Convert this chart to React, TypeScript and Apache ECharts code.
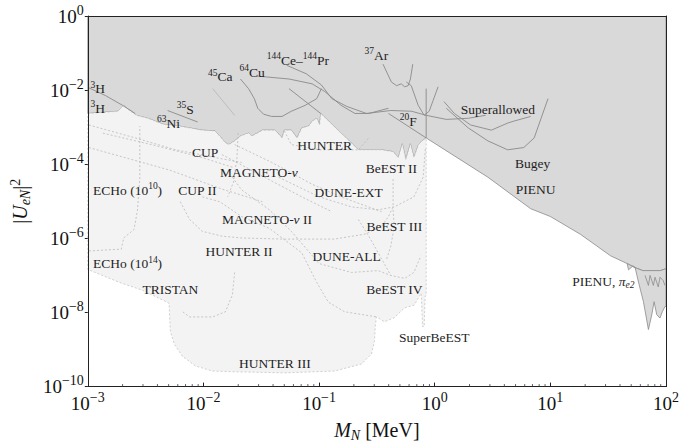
import React, { useEffect, useRef } from "react";
import * as echarts from "echarts";

// All points are [log10(M_N / MeV), log10(|U_eN|^2)].

// Lower edge of the excluded (dark) region, low-mass part (3H ... BeEST II)
const lowMassExclusionEdge: number[][] = [
  [-3.0, -2.63], [-2.74, -2.57], [-2.69, -2.41], [-2.65, -2.52], [-2.58, -2.68],
  [-2.48, -2.76], [-2.35, -2.92], [-2.21, -2.97], [-2.01, -3.08], [-1.9, -3.1],
  [-1.86, -3.24], [-1.81, -3.42], [-1.78, -3.47], [-1.73, -3.37], [-1.68, -3.24],
  [-1.61, -3.16], [-1.58, -3.24], [-1.49, -3.08], [-1.38, -3.08], [-1.32, -3.29],
  [-1.3, -3.08], [-1.24, -3.08], [-1.19, -3.29], [-1.15, -3.02], [-1.09, -2.97],
  [-1.06, -2.84], [-1.02, -2.76], [-0.995, -2.94], [-0.986, -2.63], [-0.66, -3.61],
  [-0.46, -3.61], [-0.36, -3.66], [-0.315, -3.82], [-0.28, -3.45], [-0.25, -3.87],
  [-0.21, -3.45], [-0.18, -3.82], [-0.14, -3.47], [-0.11, -3.37], [-0.074, -3.29],
];
// PIENU part of the excluded edge
const pienuExclusionEdge: number[][] = [
  [0.46, -4.35], [0.83, -5.2], [1.0, -5.41], [1.26, -5.89], [1.52, -6.47],
  [1.664, -6.68], [1.733, -6.79], [1.8, -6.87], [1.95, -6.87], [2.0, -6.82],
];
// Lower envelope of future sensitivities (from BeEST edge back to the left border)
const futureLowerEdge: number[][] = [
  [-0.074, -7.53], [-0.083, -7.58], [-0.091, -8.38], [-0.105, -8.38], [-0.117, -7.48],
  [-0.177, -7.8], [-0.263, -7.88], [-0.349, -8.14], [-0.435, -8.25], [-0.504, -8.12],
  [-0.513, -8.33], [-0.521, -8.78], [-0.547, -9.12], [-0.633, -9.39], [-0.866, -9.58],
  [-1.296, -9.63], [-1.726, -9.6], [-1.924, -9.58], [-2.071, -9.44], [-2.182, -9.18],
  [-2.251, -8.86], [-2.286, -8.51], [-2.294, -8.01], [-2.297, -7.75], [-2.527, -7.4],
  [-2.725, -7.19], [-3.0, -6.84],
];
// PIENU pi_e2 region
const pienuE2Region: number[][] = [
  [1.664, -6.68], [1.676, -6.85], [1.715, -6.74], [1.733, -6.79], [1.8, -6.87],
  [1.95, -6.87], [2.0, -6.82], [2.0, -7.84], [1.991, -7.84], [1.968, -7.98],
  [1.948, -8.15], [1.92, -8.06], [1.897, -7.71], [1.877, -8.06], [1.848, -8.46],
  [1.805, -7.71], [1.762, -7.18], [1.733, -6.79],
];
const pienuE2Inner: number[][] = [
  [1.819, -7.0], [1.848, -7.27], [1.862, -7.0], [1.891, -7.27], [1.905, -7.05],
  [1.933, -7.31], [1.948, -7.05], [1.976, -7.14], [1.991, -7.27],
];

// Solid limit curves inside the excluded region
const tritiumCurve = [[-2.99, -1.94], [-2.845, -2.15], [-2.7, -2.41], [-2.59, -2.63]];
const sulfurCurve = [[-2.31, -2.55], [-2.05, -2.86]];
const calciumCurve = [
  [-1.68, -1.7], [-1.61, -1.96], [-1.56, -2.23], [-1.53, -2.49], [-1.48, -2.65],
  [-1.41, -2.71], [-1.32, -2.71], [-1.24, -2.57], [-1.12, -2.41], [-1.02, -2.23], [-0.98, -1.96],
];
const copperCurve = [
  [-1.54, -1.62], [-1.26, -1.7], [-1.06, -1.83], [-0.95, -2.04], [-0.81, -2.41],
  [-0.69, -2.63], [-0.57, -2.63], [-0.4, -2.49],
];
const ceriumCurve = [
  [-1.28, -1.33], [-1.11, -1.56], [-0.98, -1.86], [-0.89, -2.23], [-0.76, -2.44],
  [-0.59, -2.63], [-0.38, -2.55], [-0.2, -2.57], [-0.074, -2.68], [0.1, -2.79],
  [0.29, -2.76], [0.44, -2.68],
];
const argonCurve = [
  [-0.447, -1.3], [-0.375, -1.78], [-0.33, -1.88], [-0.29, -1.83], [-0.26, -1.91],
  [-0.23, -1.88], [-0.21, -1.7], [-0.19, -1.3],
];
const fluorineCurve = [
  [-0.246, -1.78], [-0.203, -1.88], [-0.143, -2.41], [-0.091, -2.68], [-0.048, -2.57],
  [-0.014, -2.28], [0.029, -1.91],
];
const beestVertical = [[-0.074, -1.96], [-0.074, -3.29]];
const pienuExtension = [[-0.4, -2.63], [-0.074, -3.29]];
const hunterDiagonal = [[-1.26, -1.96], [-0.986, -2.63]];
const faintDiagonal = [[-1.92, -1.96], [-1.73, -2.68]];
const superallowedCurve = [
  [0.08, -2.31], [0.17, -2.63], [0.31, -2.94], [0.49, -3.08], [0.63, -2.89],
  [0.68, -2.84], [0.83, -2.71],
];
const bugeyCurve = [
  [0.1, -2.49], [0.29, -3.02], [0.46, -3.37], [0.63, -3.61], [0.77, -3.55],
  [0.86, -3.29], [0.92, -2.76], [0.98, -2.23],
];

// Dotted projected-sensitivity curves
const echo14Curve = [[-2.99, -6.34], [-2.71, -6.29], [-2.69, -5.99], [-2.6, -5.76], [-2.57, -5.23], [-2.55, -4.35], [-2.55, -2.97]];
const cupCurve = [[-2.99, -2.94], [-2.59, -3.29], [-2.24, -3.61], [-1.9, -3.82], [-1.67, -3.95]];
const echo10Curve = [[-2.87, -3.16], [-2.41, -3.5], [-2.01, -3.82], [-1.75, -4.08]];
const cup2Curve = [[-2.99, -3.55], [-2.29, -4.16], [-1.84, -4.67], [-1.49, -5.01]];
const magnetoCurve = [[-1.73, -3.47], [-1.41, -3.95], [-1.06, -4.54], [-0.81, -4.88], [-0.46, -5.28]];
const magnetoBCurve = [[-1.84, -3.74], [-1.15, -4.88], [-0.89, -5.28]];
const hunterCurve = [[-1.3, -3.1], [-1.24, -3.47], [-1.0, -3.61], [-0.66, -3.61], [-0.57, -3.29]];
const cupVertical = [[-1.7, -3.16], [-1.71, -3.82], [-1.74, -4.48], [-1.79, -4.88]];
const duneExtCurve = [[-1.35, -4.35], [-1.0, -4.88], [-0.72, -5.15], [-0.49, -5.23], [-0.35, -5.15], [-0.18, -4.88], [-0.1, -4.35], [-0.08, -3.55]];
const hunter2Envelope = [[-2.2, -5.01], [-2.12, -5.49], [-2.01, -5.81], [-1.84, -5.94], [-1.67, -5.99], [-1.3, -6.02], [-0.87, -6.02], [-0.61, -5.89], [-0.46, -5.68], [-0.4, -5.41], [-0.36, -5.15], [-0.36, -4.35]];
const duneAllCurve = [[-2.01, -4.88], [-1.86, -5.01], [-1.67, -5.41], [-1.43, -5.73], [-1.26, -6.13], [-1.15, -6.39], [-1.02, -7.19], [-0.92, -7.72], [-0.78, -7.98], [-0.5, -8.12]];
const magneto2Curve = [[-1.75, -4.35], [-1.67, -4.69], [-1.43, -5.23], [-1.24, -5.81], [-1.0, -6.68], [-0.72, -6.92], [-0.49, -6.87], [-0.38, -7.0], [-0.26, -7.08], [-0.18, -6.92], [-0.12, -6.47]];
const beest4Curve = [[-0.66, -5.49], [-0.57, -5.94], [-0.46, -6.55], [-0.38, -7.0]];
const hunter2Curve = [[-1.73, -6.92], [-1.75, -7.53], [-1.81, -7.98], [-1.92, -8.12], [-2.12, -8.12], [-2.18, -7.98]];
const beest3Curve = [[-0.36, -5.23], [-0.35, -5.68], [-0.38, -6.21], [-0.42, -6.6]];

// Region labels
const labelTexts = [
  "{s|3}H", "{s|3}H", "{s|35}S", "{s|63}Ni", "{s|45}Ca", "{s|64}Cu",
  "{s|144}Ce–{s|144}Pr", "{s|37}Ar", "{s|20}F", "Superallowed", "Bugey", "PIENU",
  "PIENU, {i|π}{sub|e2}", "CUP", "HUNTER", "BeEST II", "MAGNETO-{i|ν}", "DUNE-EXT",
  "ECHo (10{s|10})", "CUP II", "MAGNETO-{i|ν} II", "BeEST III", "HUNTER II", "DUNE-ALL",
  "ECHo (10{s|14})", "TRISTAN", "BeEST IV", "SuperBeEST", "HUNTER III",
];
const labelPositions = [
  [-2.914, -1.883], [-2.914, -2.414], [-2.157, -2.44], [-2.303, -2.812], [-1.855, -1.565],
  [-1.58, -1.432], [-1.184, -1.114], [-0.504, -0.981], [-0.229, -2.759], [0.546, -2.44],
  [0.847, -3.899], [0.873, -4.589], [1.458, -7.082], [-1.985, -3.607], [-0.952, -3.422],
  [-0.375, -4.032], [-1.52, -4.138], [-0.745, -4.695], [-2.656, -4.615], [-2.053, -4.615],
  [-1.451, -5.411], [-0.349, -5.597], [-1.692, -6.286], [-0.762, -6.419], [-2.656, -6.605],
  [-2.286, -7.294], [-0.349, -7.294], [-0.005, -8.594], [-1.382, -9.284],
];

// Axis ticks
const xMinorMantissas = [2, 3, 4, 5, 6, 7, 8, 9];
const xDecades = [0.001, 0.01, 0.1, 1, 10];

const SERIF = "Liberation Serif, DejaVu Serif, serif";
const TEXT = "#1e1e1e";
const DARK_FILL = "#d9d9d9";
const LIGHT_FILL = "#f3f3f3";
const EDGE = "#8a8a8a";
const DOT = "#b9b9b9";

const toVal = (p: number[]) => [Math.pow(10, p[0]), Math.pow(10, p[1])];

function polygonSeries(name: string, pts: number[][], fill: string, stroke: string, dash: number[] | null, z: number) {
  const data = pts.map(toVal);
  return {
    type: "custom",
    name,
    z,
    silent: true,
    clip: true,
    data,
    renderItem: (params: any, api: any) => {
      if (params.dataIndex !== 0) return null;
      const points = data.map((d) => api.coord(d));
      return {
        type: "polygon",
        shape: { points },
        style: { fill, stroke, lineWidth: 0.8, lineDash: dash || undefined },
      };
    },
  };
}

function lineSeries(name: string, pts: number[][], color: string, width: number, type: any, z: number) {
  return {
    type: "line",
    name,
    z,
    silent: true,
    clip: true,
    symbol: "none",
    showSymbol: false,
    data: pts.map(toVal),
    lineStyle: { color, width, type },
  };
}

const expLabel = (v: number) => {
  const e = Math.round(Math.log10(v));
  return `{b|10}{s|${e < 0 ? "−" + -e : e}}`;
};

const tickRich = {
  b: { fontSize: 19, fontFamily: SERIF, color: "#111", lineHeight: 26 },
  s: { fontSize: 14, fontFamily: SERIF, color: "#111", lineHeight: 14, verticalAlign: "top" },
};

const labelRich = {
  s: { fontSize: 9.5, fontFamily: SERIF, fill: TEXT, lineHeight: 10, verticalAlign: "top" },
  sub: { fontSize: 9.5, fontFamily: SERIF, fill: TEXT, fontStyle: "italic", lineHeight: 10, verticalAlign: "bottom" },
  i: { fontSize: 13.5, fontFamily: SERIF, fill: TEXT, fontStyle: "italic", lineHeight: 18 },
};

export default function App() {
  const ref = useRef<HTMLDivElement>(null);
  useEffect(() => {
    document.body.style.margin = "0";
    const chart = echarts.init(ref.current!, null, { renderer: "svg" });

    const darkPolygon = [[-3, 0], [2, 0], ...[...lowMassExclusionEdge, ...pienuExclusionEdge].reverse()];
    const lightPolygon = [...lowMassExclusionEdge, ...futureLowerEdge];

    const solid = [
      tritiumCurve, sulfurCurve, calciumCurve, copperCurve, ceriumCurve, argonCurve,
      fluorineCurve, beestVertical, pienuExtension, hunterDiagonal, superallowedCurve, bugeyCurve,
    ];
    const dotted = [
      echo14Curve, cupCurve, echo10Curve, cup2Curve, magnetoCurve, magnetoBCurve, hunterCurve,
      cupVertical, duneExtCurve, hunter2Envelope, duneAllCurve, magneto2Curve, beest4Curve,
      hunter2Curve, beest3Curve,
    ];

    const minorTicks = xDecades.flatMap((d) => xMinorMantissas.map((m) => [m * d, 1e-10]));

    const series: any[] = [
      polygonSeries("excluded", darkPolygon, DARK_FILL, EDGE, null, 1),
      polygonSeries("future", lightPolygon, LIGHT_FILL, "#c4c4c4", [2, 2], 2),
      polygonSeries("pienu-e2", pienuE2Region, DARK_FILL, EDGE, null, 2),
      lineSeries("pienu-e2-inner", pienuE2Inner, EDGE, 0.8, "solid", 3),
      lineSeries("faint", faintDiagonal, "#b0b0b0", 0.7, "solid", 3),
      ...solid.map((c, i) => lineSeries("solid" + i, c, EDGE, 0.9, "solid", 4)),
      ...dotted.map((c, i) => lineSeries("dotted" + i, c, DOT, 0.8, [2, 2], 3)),
      {
        type: "custom",
        name: "minor-ticks",
        z: 12,
        silent: true,
        clip: false,
        data: minorTicks,
        renderItem: (params: any, api: any) => {
          const p = api.coord([api.value(0), api.value(1)]);
          return {
            type: "line",
            shape: { x1: p[0], y1: p[1], x2: p[0], y2: p[1] - 2.5 },
            style: { stroke: "#333", lineWidth: 0.8 },
          };
        },
      },
      {
        type: "custom",
        name: "labels",
        z: 10,
        silent: true,
        clip: false,
        data: labelPositions.map(toVal),
        renderItem: (params: any, api: any) => {
          const p = api.coord([api.value(0), api.value(1)]);
          return {
            type: "text",
            x: p[0],
            y: p[1] + 3,
            style: {
              text: labelTexts[params.dataIndex],
              fill: TEXT,
              fontFamily: SERIF,
              fontSize: 13.5,
              lineHeight: 18,
              align: "center",
              verticalAlign: "middle",
              rich: labelRich,
            },
          };
        },
      },
    ];

    chart.setOption({
      animation: false,
      grid: { left: 85, right: 17, top: 16, bottom: 54 },
      xAxis: [
        {
          type: "log",
          logBase: 10,
          min: 0.001,
          max: 100,
          splitNumber: 5,
          z: 10,
          axisLine: { lineStyle: { color: "#222", width: 1 } },
          axisTick: { inside: true, length: 4, lineStyle: { color: "#222" } },
          splitLine: { show: false },
          axisLabel: { formatter: expLabel, margin: 4, rich: tickRich },
          name: "{i|M}{sub|N} [MeV]",
          nameLocation: "middle",
          nameGap: 30,
          nameTextStyle: {
            fontFamily: SERIF,
            fontSize: 20,
            color: "#111",
            lineHeight: 24,
            rich: {
              i: { fontFamily: SERIF, fontSize: 20, fontStyle: "italic", color: "#111", lineHeight: 24 },
              sub: { fontFamily: SERIF, fontSize: 14, fontStyle: "italic", color: "#111", lineHeight: 14, verticalAlign: "bottom" },
            },
          },
        },
        {
          type: "value",
          position: "top",
          min: 0,
          max: 1,
          z: 10,
          axisLine: { show: true, lineStyle: { color: "#222", width: 1 } },
          axisTick: { show: false },
          axisLabel: { show: false },
          splitLine: { show: false },
        },
      ],
      yAxis: [
        {
          type: "log",
          logBase: 100,
          min: 1e-10,
          max: 1,
          splitNumber: 5,
          z: 10,
          axisLine: { show: true, lineStyle: { color: "#222", width: 1 } },
          axisTick: { show: true, inside: false, length: 3, lineStyle: { color: "#222" } },
          splitLine: { show: false },
          axisLabel: { formatter: expLabel, margin: 4, rich: tickRich },
          name: "|{i|U}{sub|eN}|{sup|2}",
          nameLocation: "middle",
          nameRotate: 90,
          nameGap: 47,
          nameTextStyle: {
            fontFamily: SERIF,
            fontSize: 20,
            color: "#111",
            lineHeight: 24,
            rich: {
              i: { fontFamily: SERIF, fontSize: 20, fontStyle: "italic", color: "#111", lineHeight: 24 },
              sub: { fontFamily: SERIF, fontSize: 14, fontStyle: "italic", color: "#111", lineHeight: 14, verticalAlign: "bottom" },
              sup: { fontFamily: SERIF, fontSize: 14, color: "#111", lineHeight: 14, verticalAlign: "top" },
            },
          },
        },
        {
          type: "value",
          position: "right",
          min: 0,
          max: 1,
          z: 10,
          axisLine: { show: true, lineStyle: { color: "#222", width: 1 } },
          axisTick: { show: false },
          axisLabel: { show: false },
          splitLine: { show: false },
        },
      ],
      series,
    });
    return () => chart.dispose();
  }, []);
  return <div ref={ref} style={{ width: 683, height: 447 }} />;
}
